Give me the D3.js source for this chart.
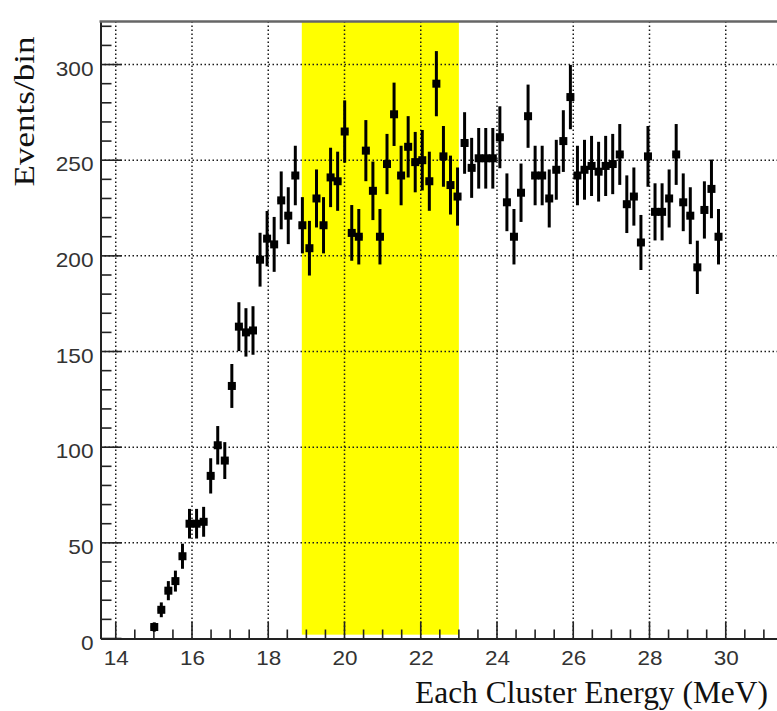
<!DOCTYPE html>
<html>
<head>
<meta charset="utf-8">
<script src="https://cdn.jsdelivr.net/npm/d3@7"></script>
<style>
  html, body { margin: 0; padding: 0; background: #fff; }
  svg { display: block; }
</style>
</head>
<body>
<svg id="chart" width="777" height="711"></svg>
<script>
// Bin centres (MeV) of the cluster-energy histogram
const energies = [
  15.010, 15.195, 15.380, 15.565, 15.750, 15.935, 16.120, 16.305, 16.490, 16.675,
  16.860, 17.045, 17.230, 17.415, 17.600, 17.785, 17.970, 18.155, 18.340, 18.525,
  18.710, 18.895, 19.080, 19.265, 19.450, 19.635, 19.820, 20.005, 20.190, 20.375,
  20.560, 20.745, 20.930, 21.115, 21.300, 21.485, 21.670, 21.855, 22.040, 22.225,
  22.410, 22.595, 22.780, 22.965, 23.150, 23.335, 23.520, 23.705, 23.890, 24.075,
  24.260, 24.445, 24.630, 24.815, 25.000, 25.185, 25.370, 25.555, 25.740, 25.925,
  26.110, 26.295, 26.480, 26.665, 26.850, 27.035, 27.220, 27.405, 27.590, 27.775,
  27.960, 28.145, 28.330, 28.515, 28.700, 28.885, 29.070, 29.255, 29.440, 29.625,
  29.810
];
// Events in each bin
const counts = [
  6, 15, 25, 30, 43, 60, 60, 61, 85, 101, 93, 132, 163, 160, 161,
  198, 209, 206, 229, 221, 242, 216, 204, 230, 216, 241, 239, 265, 212, 210,
  255, 234, 210, 248, 274, 242, 257, 249, 250, 239, 290, 252, 237, 231,
  259, 246, 251, 251, 251, 262, 228, 210, 233, 273, 242, 242, 230, 245, 260, 283,
  242, 245, 247, 244, 247, 248, 253, 227, 231, 207, 252, 223, 223, 230, 253, 228,
  221, 194, 224, 235, 210
];
const binWidth = 0.185;
const xTicks = [14, 16, 18, 20, 22, 24, 26, 28, 30];
const yTicks = [0, 50, 100, 150, 200, 250, 300];
const xMinorStep = 0.5;
const yMinorStep = 10;
const bandRange = [18.88, 23.0];   // highlighted energy window
const bandFloor = 2;

const xTitle = "Each Cluster Energy (MeV)";
const yTitle = "Events/bin";

const svg = d3.select("#chart");
const W = 777, H = 711;
const frame = { left: 100.5, top: 21.5, bottom: 638.5 };

const x = d3.scaleLinear().domain([13.6, 31.5]).range([frame.left, frame.left + 17.9 * 38.125]);
const y = d3.scaleLinear().domain([0, 322.5]).range([frame.bottom, frame.top]);

const [x0, x1] = x.range();
const ink = "#222";
const labelFont = "'Liberation Sans', Arial, Helvetica, sans-serif";
const titleFont = "'Liberation Serif', 'Times New Roman', serif";

// highlighted window
svg.append("rect")
  .attr("x", x(bandRange[0]))
  .attr("y", y(y.domain()[1]))
  .attr("width", x(bandRange[1]) - x(bandRange[0]))
  .attr("height", y(bandFloor) - y(y.domain()[1]))
  .attr("fill", "#ffff00");

// dotted grid at major ticks
const grid = svg.append("g").attr("stroke", "#1a1a1a").attr("stroke-width", 1.5)
  .attr("stroke-dasharray", "1.5,2.5");
grid.selectAll("line.gx").data(xTicks).join("line")
  .attr("x1", d => x(d)).attr("x2", d => x(d))
  .attr("y1", frame.top).attr("y2", frame.bottom);
grid.selectAll("line.gy").data(yTicks.filter(d => d > 0)).join("line")
  .attr("x1", x0).attr("x2", x1)
  .attr("y1", d => y(d)).attr("y2", d => y(d));

// x axis with inward ticks
const xMinor = d3.range(14, 31.5 + 1e-9, xMinorStep).filter(v => !xTicks.includes(v));
const xAxis = svg.append("g").attr("transform", `translate(0,${frame.bottom})`)
  .call(d3.axisBottom(x).tickValues(xTicks).tickSize(0).tickPadding(12.5).tickFormat(d3.format("d")));
xAxis.select(".domain").attr("stroke", ink).attr("stroke-width", 2);
xAxis.selectAll(".tick text")
  .attr("font-family", labelFont)
  .attr("font-size", 20).attr("fill", "#333")
  .attr("textLength", d => String(d).length * 12.5)
  .attr("lengthAdjust", "spacingAndGlyphs");
svg.append("g").attr("stroke", ink).attr("stroke-width", 1.6)
  .selectAll("line").data(xTicks.map(v => [v, 17]).concat(xMinor.map(v => [v, 9]))).join("line")
  .attr("x1", d => x(d[0])).attr("x2", d => x(d[0]))
  .attr("y1", frame.bottom).attr("y2", d => frame.bottom - d[1]);

// y axis with inward ticks
const yMinor = d3.range(0, 321, yMinorStep).filter(v => !yTicks.includes(v));
const yAxis = svg.append("g").attr("transform", `translate(${frame.left},0)`)
  .call(d3.axisLeft(y).tickValues(yTicks).tickSize(0).tickPadding(7).tickFormat(d3.format("d")));
yAxis.select(".domain").attr("stroke", ink).attr("stroke-width", 2);
yAxis.selectAll(".tick text")
  .attr("font-family", labelFont)
  .attr("font-size", 21).attr("fill", "#333")
  .attr("dy", "0.5em")
  .attr("textLength", d => String(d).length * 12.6)
  .attr("lengthAdjust", "spacingAndGlyphs");
svg.append("g").attr("stroke", ink).attr("stroke-width", 1.6)
  .selectAll("line").data(yTicks.map(v => [v, 21]).concat(yMinor.map(v => [v, 11]))).join("line")
  .attr("x1", frame.left).attr("x2", d => frame.left + d[1])
  .attr("y1", d => y(d[0])).attr("y2", d => y(d[0]));

// top frame edge
svg.append("line").attr("x1", frame.left - 1).attr("x2", W)
  .attr("y1", frame.top).attr("y2", frame.top)
  .attr("stroke", "#666").attr("stroke-width", 2.5);

// data: bin-width bars, Poisson error bars, square markers
const pts = energies.map((e, i) => ({ e, n: counts[i], err: Math.sqrt(counts[i]) }));
const marks = svg.append("g").attr("fill", "#000").attr("stroke", "#000");
marks.selectAll("line.h").data(pts).join("line").attr("class", "h")
  .attr("x1", d => x(d.e - binWidth / 2)).attr("x2", d => x(d.e + binWidth / 2))
  .attr("y1", d => y(d.n)).attr("y2", d => y(d.n))
  .attr("stroke-width", 3);
marks.selectAll("line.v").data(pts).join("line").attr("class", "v")
  .attr("x1", d => x(d.e)).attr("x2", d => x(d.e))
  .attr("y1", d => y(Math.max(0, d.n - d.err))).attr("y2", d => y(d.n + d.err))
  .attr("stroke-width", 3);
marks.selectAll("rect").data(pts).join("rect")
  .attr("x", d => x(d.e) - 4).attr("y", d => y(d.n) - 4)
  .attr("width", 8).attr("height", 8).attr("stroke", "none");

// axis titles
svg.append("text")
  .attr("x", 768).attr("y", 703)
  .attr("text-anchor", "end")
  .attr("font-family", titleFont)
  .attr("font-size", 31).attr("fill", "#111")
  .attr("textLength", 353).attr("lengthAdjust", "spacingAndGlyphs")
  .text(xTitle);
svg.append("text")
  .attr("transform", "translate(33.5,36.5) rotate(-90)")
  .attr("text-anchor", "end")
  .attr("font-family", titleFont)
  .attr("font-size", 30).attr("fill", "#111")
  .attr("textLength", 150).attr("lengthAdjust", "spacingAndGlyphs")
  .text(yTitle);
</script>
</body>
</html>
